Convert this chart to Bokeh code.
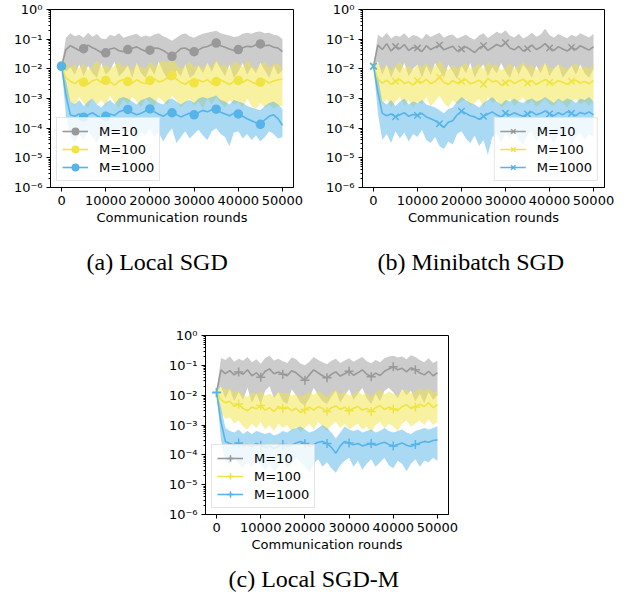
from bokeh.plotting import figure
from bokeh.layouts import row, column, Spacer
from bokeh.models import FixedTicker, CustomJSTickFormatter, Range1d
from bokeh.embed import file_html
from bokeh.resources import INLINE

# ---------------- data (log10 of loss), x = communication rounds ----------------
rounds = list(range(0, 50001, 1000))
marker_rounds = list(range(0, 45001, 5000))
series_labels = ["M=10", "M=100", "M=1000"]
colors = ["#999999", "#F0E442", "#56B4E9"]
x_ticks = [0, 10000, 20000, 30000, 40000, 50000]
y_ticks = [1e-6, 1e-5, 1e-4, 1e-3, 1e-2, 1e-1, 1e0]

# (a) Local SGD
a_m10_mean = [-1.91,
    -1.35, -1.22, -1.30, -1.38, -1.32, -1.20, -1.29, -1.36, -1.45, -1.46,
    -1.33, -1.30, -1.39, -1.42, -1.35, -1.31, -1.26, -1.34, -1.41, -1.37,
    -1.30, -1.31, -1.38, -1.48, -1.58, -1.45, -1.32, -1.30, -1.38, -1.42,
    -1.36, -1.28, -1.25, -1.18, -1.13, -1.22, -1.27, -1.33, -1.38, -1.35,
    -1.29, -1.24, -1.26, -1.19, -1.16, -1.22, -1.20, -1.27, -1.30, -1.42]
a_m10_hi = [-1.91,
    -0.95, -0.80, -0.90, -0.85, -0.95, -0.78, -0.92, -0.83, -0.98, -1.00,
    -0.85, -0.90, -0.80, -0.95, -0.90, -0.86, -0.82, -0.93, -0.88, -0.92,
    -0.84, -0.80, -0.90, -0.97, -1.05, -0.95, -0.85, -0.80, -0.90, -0.95,
    -0.88, -0.82, -0.78, -0.75, -0.72, -0.80, -0.84, -0.88, -0.93, -0.90,
    -0.82, -0.78, -0.82, -0.76, -0.74, -0.80, -0.78, -0.85, -0.88, -1.00]
a_m10_lo = [-1.91,
    -2.10, -1.95, -2.20, -1.85, -2.25, -1.90, -2.15, -2.30, -1.80, -2.20,
    -2.05, -1.75, -2.25, -2.10, -1.90, -2.30, -1.80, -2.15, -2.30, -1.95,
    -2.20, -1.75, -2.10, -2.35, -2.40, -2.05, -2.25, -1.85, -2.30, -2.20,
    -1.90, -2.15, -1.80, -2.10, -1.75, -2.00, -2.25, -1.85, -2.30, -2.10,
    -1.80, -2.20, -1.95, -2.15, -1.80, -2.05, -2.30, -1.90, -2.20, -2.05]
a_m100_mean = [-1.91,
    -2.30, -2.42, -2.50, -2.38, -2.45, -2.52, -2.40, -2.35, -2.46, -2.39,
    -2.44, -2.55, -2.42, -2.36, -2.43, -2.48, -2.37, -2.45, -2.50, -2.39,
    -2.33, -2.44, -2.40, -2.30, -2.22, -2.35, -2.46, -2.52, -2.41, -2.47,
    -2.38, -2.44, -2.36, -2.50, -2.43, -2.37, -2.45, -2.53, -2.42, -2.39,
    -2.46, -2.36, -2.44, -2.50, -2.45, -2.38, -2.48, -2.41, -2.37, -2.35]
a_m100_hi = [-1.91,
    -1.75, -1.95, -1.85, -2.00, -1.80, -2.05, -1.90, -1.70, -1.95, -1.85,
    -2.00, -1.90, -1.75, -1.95, -1.85, -2.05, -1.80, -1.95, -2.00, -1.75,
    -1.90, -1.85, -1.70, -1.80, -1.60, -1.85, -2.00, -1.90, -1.75, -1.95,
    -1.85, -2.00, -1.80, -1.95, -1.70, -1.90, -1.85, -2.00, -1.75, -1.80,
    -1.95, -1.70, -1.90, -2.00, -1.85, -1.75, -1.95, -1.85, -1.80, -2.00]
a_m100_lo = [-1.91,
    -2.90, -3.10, -3.25, -2.95, -3.15, -3.30, -3.00, -3.20, -3.05, -3.25,
    -2.90, -3.15, -3.30, -3.05, -3.20, -2.95, -3.10, -3.30, -3.00, -3.15,
    -3.25, -2.95, -3.10, -3.20, -2.90, -3.05, -3.30, -3.15, -3.00, -3.25,
    -3.10, -3.35, -3.00, -3.20, -2.95, -3.15, -3.30, -3.05, -3.20, -3.10,
    -3.30, -3.00, -3.25, -3.35, -3.15, -3.30, -3.20, -3.35, -3.25, -3.25]
a_m1000_mean = [-1.91,
    -2.90, -3.55, -3.60, -3.52, -3.63, -3.55, -3.48, -3.58, -3.66, -3.60,
    -3.52, -3.57, -3.45, -3.40, -3.37, -3.48, -3.55, -3.50, -3.42, -3.35,
    -3.45, -3.53, -3.60, -3.50, -3.48, -3.55, -3.62, -3.56, -3.50, -3.55,
    -3.47, -3.40, -3.45, -3.38, -3.36, -3.46, -3.52, -3.58, -3.50, -3.52,
    -3.60, -3.68, -3.75, -3.82, -3.87, -3.72, -3.60, -3.55, -3.68, -3.90]
a_m1000_hi = [-1.91,
    -2.40, -3.10, -3.20, -3.05, -3.25, -3.10, -3.00, -3.20, -3.30, -3.15,
    -3.05, -3.20, -3.00, -2.95, -3.00, -3.10, -3.20, -3.05, -3.00, -2.95,
    -3.05, -3.15, -3.20, -3.05, -3.00, -3.10, -3.20, -3.10, -3.05, -3.15,
    -3.00, -2.95, -3.00, -2.95, -2.90, -3.05, -3.10, -3.20, -3.05, -3.10,
    -3.15, -3.25, -3.30, -3.35, -3.40, -3.25, -3.15, -3.10, -3.20, -3.35]
a_m1000_lo = [-1.91,
    -3.60, -4.30, -4.50, -4.20, -4.40, -4.10, -4.30, -4.50, -4.20, -4.35,
    -4.10, -4.25, -4.00, -4.15, -3.95, -4.20, -4.40, -4.10, -4.25, -4.00,
    -4.30, -4.15, -4.45, -4.20, -4.00, -4.50, -4.30, -4.10, -4.35, -4.20,
    -4.05, -4.25, -4.40, -4.10, -4.00, -4.20, -4.30, -4.60, -4.15, -4.10,
    -4.35, -4.20, -4.40, -4.25, -4.45, -4.30, -4.10, -4.20, -4.35, -4.30]

# (b) Minibatch SGD
b_m10_mean = [-1.91,
    -1.20, -1.35, -1.15, -1.40, -1.25, -1.32, -1.18, -1.38, -1.28, -1.30,
    -1.42, -1.22, -1.35, -1.27, -1.20, -1.36, -1.30, -1.24, -1.40, -1.33,
    -1.26, -1.35, -1.45, -1.30, -1.22, -1.38, -1.28, -1.18, -1.25, -1.12,
    -1.30, -1.36, -1.24, -1.40, -1.32, -1.20, -1.35, -1.27, -1.15, -1.30,
    -1.38, -1.25, -1.33, -1.40, -1.28, -1.35, -1.22, -1.30, -1.37, -1.25]
b_m10_hi = [-1.91,
    -0.85, -0.95, -0.78, -0.98, -0.88, -0.92, -0.80, -0.96, -0.86, -0.90,
    -1.00, -0.82, -0.93, -0.85, -0.78, -0.95, -0.88, -0.84, -0.98, -0.92,
    -0.85, -0.95, -1.02, -0.88, -0.80, -0.96, -0.86, -0.75, -0.82, -0.70,
    -0.88, -0.94, -0.82, -0.98, -0.90, -0.78, -0.92, -0.84, -0.65, -0.86,
    -0.95, -0.83, -0.90, -0.97, -0.85, -0.92, -0.80, -0.88, -0.94, -0.82]
b_m10_lo = [-1.91,
    -1.75, -2.20, -1.85, -2.30, -1.95, -2.15, -1.80, -2.25, -2.00, -1.85,
    -2.30, -1.90, -2.20, -1.80, -2.05, -2.30, -1.85, -2.10, -2.35, -1.90,
    -2.15, -1.80, -2.30, -2.00, -1.85, -2.25, -1.95, -2.15, -1.80, -2.10,
    -2.30, -1.90, -2.20, -1.85, -2.05, -2.30, -1.90, -2.15, -1.80, -2.25,
    -2.00, -1.85, -2.30, -2.10, -1.90, -2.20, -1.85, -2.15, -2.30, -2.00]
b_m100_mean = [-1.91,
    -2.35, -2.48, -2.38, -2.52, -2.42, -2.36, -2.50, -2.44, -2.55, -2.40,
    -2.47, -2.35, -2.50, -2.43, -2.28, -2.45, -2.53, -2.40, -2.48, -2.42,
    -2.36, -2.50, -2.45, -2.38, -2.52, -2.32, -2.44, -2.40, -2.55, -2.47,
    -2.38, -2.50, -2.42, -2.35, -2.48, -2.40, -2.53, -2.44, -2.36, -2.46,
    -2.50, -2.40, -2.45, -2.52, -2.42, -2.38, -2.48, -2.43, -2.50, -2.40]
b_m100_hi = [-1.91,
    -1.80, -2.00, -1.85, -2.05, -1.90, -1.75, -2.00, -1.88, -2.05, -1.85,
    -1.95, -1.78, -2.00, -1.90, -1.72, -1.92, -2.05, -1.85, -1.98, -1.90,
    -1.80, -2.00, -1.92, -1.82, -2.02, -1.75, -1.90, -1.85, -2.05, -1.95,
    -1.82, -2.00, -1.90, -1.78, -1.95, -1.85, -2.05, -1.92, -1.80, -1.95,
    -2.00, -1.85, -1.92, -2.02, -1.90, -1.82, -1.98, -1.90, -2.00, -1.85]
b_m100_lo = [-1.91,
    -2.90, -3.20, -3.00, -3.30, -3.10, -2.95, -3.25, -3.05, -3.30, -3.10,
    -3.20, -2.95, -3.25, -3.10, -2.90, -3.15, -3.30, -3.05, -3.20, -3.10,
    -3.00, -3.25, -3.15, -3.00, -3.30, -2.95, -3.15, -3.05, -3.30, -3.20,
    -3.00, -3.25, -3.10, -2.95, -3.20, -3.05, -3.30, -3.15, -3.00, -3.20,
    -3.25, -3.05, -3.15, -3.30, -3.10, -3.00, -3.20, -3.10, -3.25, -3.05]
b_m1000_mean = [-1.91,
    -2.80, -3.50, -3.58, -3.52, -3.62, -3.55, -3.48, -3.60, -3.54, -3.57,
    -3.50, -3.62, -3.68, -3.75, -3.85, -3.98, -3.80, -3.75, -3.55, -3.43,
    -3.50, -3.58, -3.62, -3.70, -3.60, -3.52, -3.45, -3.55, -3.62, -3.50,
    -3.56, -3.48, -3.55, -3.60, -3.52, -3.45, -3.55, -3.50, -3.42, -3.52,
    -3.58, -3.48, -3.55, -3.45, -3.50, -3.58, -3.47, -3.52, -3.45, -3.55]
b_m1000_hi = [-1.91,
    -2.30, -3.10, -3.20, -3.05, -3.25, -3.10, -3.00, -3.20, -3.10, -3.15,
    -3.05, -3.20, -3.25, -3.30, -3.40, -3.50, -3.35, -3.30, -3.10, -2.95,
    -3.05, -3.15, -3.20, -3.30, -3.15, -3.05, -2.95, -3.10, -3.20, -3.05,
    -3.10, -3.00, -3.10, -3.15, -3.05, -3.00, -3.10, -3.05, -2.95, -3.05,
    -3.15, -3.00, -3.10, -3.00, -3.05, -3.15, -3.00, -3.05, -2.95, -3.10]
b_m1000_lo = [-1.91,
    -3.50, -4.40, -4.20, -4.50, -4.10, -4.35, -4.15, -4.45, -4.20, -4.30,
    -4.05, -4.40, -4.50, -4.30, -4.60, -4.70, -4.45, -4.55, -4.20, -4.10,
    -4.35, -4.50, -4.25, -4.60, -4.40, -4.90, -4.30, -4.20, -4.50, -4.15,
    -4.35, -4.10, -4.40, -4.55, -4.20, -4.10, -4.45, -4.25, -4.05, -4.30,
    -4.50, -4.20, -4.35, -4.10, -4.60, -4.30, -4.15, -4.40, -4.20, -4.30]

# (c) Local SGD-M
c_m10_mean = [-1.91,
    -1.15, -1.28, -1.18, -1.32, -1.22, -1.30, -1.15, -1.35, -1.25, -1.40,
    -1.20, -1.12, -1.28, -1.22, -1.30, -1.35, -1.18, -1.25, -1.38, -1.50,
    -1.32, -1.15, -1.25, -1.35, -1.42, -1.30, -1.22, -1.36, -1.28, -1.20,
    -1.33, -1.25, -1.15, -1.30, -1.38, -1.26, -1.34, -1.20, -1.12, -1.05,
    -1.15, -1.10, -1.22, -1.08, -1.15, -1.25, -1.32, -1.20, -1.35, -1.25]
c_m10_hi = [-1.91,
    -0.75, -0.82, -0.70, -0.88, -0.78, -0.85, -0.72, -0.90, -0.80, -0.95,
    -0.75, -0.68, -0.84, -0.78, -0.86, -0.92, -0.74, -0.80, -0.94, -1.00,
    -0.88, -0.72, -0.82, -0.90, -0.96, -0.85, -0.78, -0.92, -0.84, -0.76,
    -0.88, -0.80, -0.72, -0.86, -0.93, -0.82, -0.90, -0.76, -0.70, -0.68,
    -0.74, -0.70, -0.80, -0.66, -0.72, -0.82, -0.90, -0.76, -0.92, -0.85]
c_m10_lo = [-1.91,
    -1.70, -2.10, -1.80, -2.20, -1.90, -2.15, -1.75, -2.25, -1.95, -2.30,
    -1.85, -1.70, -2.10, -1.90, -2.20, -2.30, -1.80, -2.00, -2.25, -2.35,
    -2.10, -1.75, -2.00, -2.20, -2.30, -2.05, -1.85, -2.25, -2.00, -1.80,
    -2.15, -1.95, -1.75, -2.10, -2.30, -1.95, -2.20, -1.85, -1.75, -1.90,
    -2.10, -1.80, -2.00, -1.85, -2.20, -1.95, -2.25, -1.90, -2.15, -2.00]
c_m100_mean = [-1.91,
    -2.15, -2.25, -2.20, -2.38, -2.30, -2.45, -2.52, -2.40, -2.46, -2.35,
    -2.50, -2.42, -2.55, -2.38, -2.45, -2.40, -2.52, -2.44, -2.58, -2.48,
    -2.40, -2.50, -2.38, -2.45, -2.55, -2.42, -2.36, -2.48, -2.40, -2.52,
    -2.44, -2.38, -2.50, -2.45, -2.55, -2.42, -2.35, -2.48, -2.40, -2.46,
    -2.52, -2.38, -2.32, -2.45, -2.40, -2.30, -2.38, -2.25, -2.42, -2.32]
c_m100_hi = [-1.91,
    -1.70, -1.80, -1.78, -1.92, -1.85, -2.00, -2.05, -1.90, -1.98, -1.85,
    -2.02, -1.95, -2.05, -1.88, -1.95, -1.90, -2.02, -1.95, -2.05, -1.98,
    -1.88, -2.00, -1.85, -1.95, -2.05, -1.90, -1.82, -1.98, -1.88, -2.02,
    -1.95, -1.85, -2.00, -1.92, -2.05, -1.90, -1.80, -1.98, -1.88, -1.95,
    -2.00, -1.85, -1.80, -1.95, -1.88, -1.78, -1.88, -1.75, -1.92, -1.82]
c_m100_lo = [-1.91,
    -2.60, -2.80, -2.75, -2.95, -2.85, -3.05, -3.15, -2.95, -3.10, -2.90,
    -3.15, -3.00, -3.20, -2.95, -3.10, -3.00, -3.20, -3.05, -3.25, -3.10,
    -2.95, -3.15, -2.90, -3.05, -3.20, -3.00, -2.90, -3.10, -2.95, -3.15,
    -3.05, -2.95, -3.15, -3.05, -3.25, -3.00, -2.90, -3.10, -2.95, -3.05,
    -3.20, -2.95, -2.85, -3.05, -2.95, -2.85, -3.00, -2.80, -3.00, -2.90]
c_m1000_mean = [-1.91,
    -2.90, -3.55, -3.62, -3.68, -3.60, -3.70, -3.65, -3.72, -3.62, -3.68,
    -3.75, -3.70, -3.78, -3.72, -3.65, -3.72, -3.68, -3.60, -3.55, -3.62,
    -3.70, -3.65, -3.58, -3.55, -3.62, -3.75, -3.95, -3.70, -3.55, -3.60,
    -3.66, -3.62, -3.70, -3.66, -3.62, -3.68, -3.62, -3.58, -3.65, -3.70,
    -3.65, -3.60, -3.68, -3.72, -3.65, -3.60, -3.55, -3.58, -3.52, -3.50]
c_m1000_hi = [-1.91,
    -2.40, -3.10, -3.20, -3.25, -3.15, -3.30, -3.20, -3.30, -3.20, -3.25,
    -3.30, -3.25, -3.35, -3.30, -3.20, -3.25, -3.15, -3.10, -3.05, -3.15,
    -3.25, -3.20, -3.10, -3.00, -3.10, -3.25, -3.45, -3.25, -3.05, -3.15,
    -3.20, -3.15, -3.25, -3.20, -3.15, -3.25, -3.20, -3.10, -3.20, -3.25,
    -3.20, -3.15, -3.25, -3.30, -3.20, -3.15, -3.10, -3.15, -3.10, -3.05]
c_m1000_lo = [-1.91,
    -3.50, -4.20, -4.35, -4.10, -4.30, -4.45, -4.20, -4.40, -4.15, -4.35,
    -4.50, -4.30, -4.55, -4.40, -4.20, -4.45, -4.30, -4.10, -4.25, -4.40,
    -4.60, -4.30, -4.15, -4.40, -4.25, -4.45, -4.60, -4.35, -4.20, -4.10,
    -4.40, -4.20, -4.50, -4.30, -4.15, -4.40, -4.25, -4.10, -4.35, -4.45,
    -4.20, -4.30, -4.55, -4.30, -4.15, -4.40, -4.20, -4.25, -4.10, -4.20]

panels = {
    "a": [(a_m10_mean, a_m10_lo, a_m10_hi), (a_m100_mean, a_m100_lo, a_m100_hi), (a_m1000_mean, a_m1000_lo, a_m1000_hi)],
    "b": [(b_m10_mean, b_m10_lo, b_m10_hi), (b_m100_mean, b_m100_lo, b_m100_hi), (b_m1000_mean, b_m1000_lo, b_m1000_hi)],
    "c": [(c_m10_mean, c_m10_lo, c_m10_hi), (c_m100_mean, c_m100_lo, c_m100_hi), (c_m1000_mean, c_m1000_lo, c_m1000_hi)],
}
for k, ss in panels.items():
    for s in ss:
        for arr in s:
            assert len(arr) == len(rounds), (k, len(arr))

sup_fmt = CustomJSTickFormatter(code="""
const sup = {"-": "\u207b", "0": "\u2070", "1": "\u00b9", "2": "\u00b2", "3": "\u00b3",
             "4": "\u2074", "5": "\u2075", "6": "\u2076", "7": "\u2077", "8": "\u2078", "9": "\u2079"};
const e = Math.round(Math.log10(tick));
return "10" + String(e).split("").map(c => sup[c]).join("");
""")

minor_y = [m * 10.0 ** e for e in range(-6, 0) for m in range(2, 10)]

FONT = "DejaVu Sans"


def make_panel(series, marker, msize, caption, legend_loc, width, height,
               bl, br, bt, bb, title_offset, title_standoff, legend_margin):
    p = figure(width=width, height=height, y_axis_type="log",
               x_range=Range1d(-2500, 52500), y_range=Range1d(1e-6, 1.0),
               output_backend="svg", toolbar_location=None,
               title=caption, title_location="below",
               min_border_left=bl, min_border_right=br,
               min_border_top=bt, min_border_bottom=bb)
    p.background_fill_color = "white"
    p.border_fill_color = "white"
    p.outline_line_color = "black"
    p.outline_line_width = 1
    p.grid.visible = False

    p.xaxis.ticker = FixedTicker(ticks=x_ticks, minor_ticks=[])
    p.yaxis.ticker = FixedTicker(ticks=y_ticks, minor_ticks=minor_y)
    p.yaxis.formatter = sup_fmt
    p.xaxis.axis_label = "Communication rounds"
    for ax in (p.xaxis, p.yaxis):
        ax.axis_line_color = "black"
        ax.major_tick_line_color = "black"
        ax.minor_tick_line_color = "black"
        ax.major_tick_in = 0
        ax.major_tick_out = 4
        ax.minor_tick_in = 0
        ax.minor_tick_out = 2
        ax.major_label_text_font = FONT
        ax.major_label_text_font_size = "13px"
        ax.major_label_text_color = "black"
        ax.major_label_standoff = 4
        ax.axis_label_text_font = FONT
        ax.axis_label_text_font_size = "13px"
        ax.axis_label_text_font_style = "normal"
        ax.axis_label_text_color = "black"
        ax.axis_label_standoff = 2

    for (mean, lo, hi), label, color in zip(series, series_labels, colors):
        p.varea(x=rounds, y1=[10 ** v for v in lo], y2=[10 ** v for v in hi],
                fill_color=color, fill_alpha=0.5)
    for (mean, lo, hi), label, color in zip(series, series_labels, colors):
        ys = [10 ** v for v in mean]
        p.line(rounds, ys, line_color=color, line_width=1.6, legend_label=label)
        mx = [r for r in rounds if r in marker_rounds]
        my = [y for r, y in zip(rounds, ys) if r in marker_rounds]
        p.scatter(mx, my, marker=marker, size=msize, line_color=color,
                  fill_color=color, line_width=1.5, legend_label=label)

    lg = p.legend[0]
    lg.location = legend_loc
    lg.margin = legend_margin
    lg.padding = 5
    lg.spacing = 2
    lg.label_height = 16
    lg.glyph_height = 16
    lg.glyph_width = 26
    lg.label_standoff = 11
    lg.label_text_font = FONT
    lg.label_text_font_size = "13px"
    lg.label_text_color = "black"
    lg.border_line_color = "#cccccc"
    lg.border_line_width = 1
    lg.background_fill_color = "white"
    lg.background_fill_alpha = 0.8

    p.title.text_font = "Liberation Serif"
    p.title.text_font_size = "24px"
    p.title.text_font_style = "normal"
    p.title.text_color = "black"
    p.title.align = "left"
    p.title.offset = title_offset
    p.title.standoff = title_standoff
    return p


pa = make_panel(panels["a"], "circle", 8, "(a) Local SGD", "bottom_left",
                318, 326, 50, 25, 9, 139, 36, 39, 6)
pb = make_panel(panels["b"], "x", 9, "(b) Minibatch SGD", "bottom_right",
                318, 326, 44, 32, 9, 139, 15, 39, 6)
pc = make_panel(panels["c"], "cross", 9, "(c) Local SGD-M", "bottom_left",
                310, 278, 42, 25, 9, 90, 23, 18, 6)

layout = column(row(pa, pb), row(Spacer(width=163, height=278), pc))

open("out.html", "w").write(file_html(layout, INLINE))
